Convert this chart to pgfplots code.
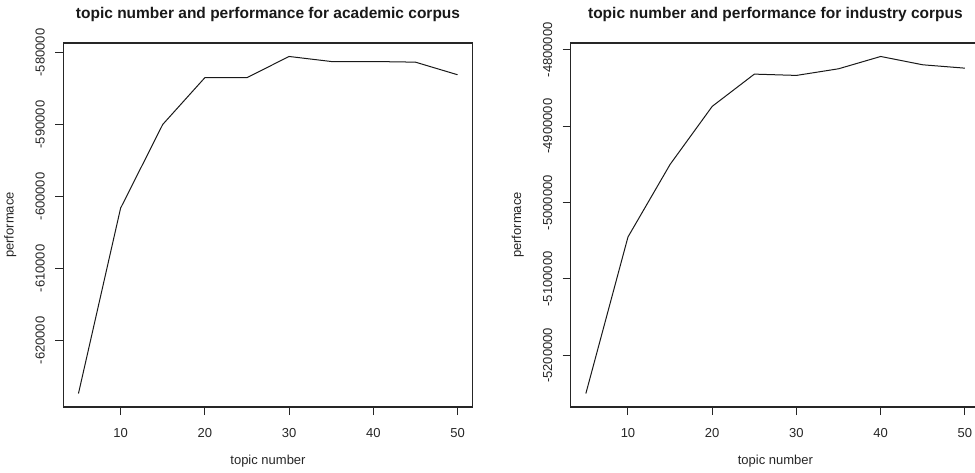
\documentclass[border=0pt]{standalone}
\usepackage{fontspec}
\setmainfont{Liberation Sans}
\usepackage{pgfplots}
\pgfplotsset{compat=1.18}
\begin{document}
\begin{tikzpicture}[x=1pt,y=1pt]
\pgfplotsset{
  rstyle/.style={
    scale only axis,
    width=409.4pt, height=364pt,
    anchor=south west,
    xmin=3.2, xmax=51.8,
    xtick={10,20,30,40,50},
    tick pos=left,
    tick align=outside,
    major tick length=8pt,
    axis line style={line width=1.3pt, color=black!85},
    every tick/.style={line width=1pt, color=black!85},
    /pgf/number format/assume math mode=true,
    tick label style={font=\fontsize{13}{15}\selectfont, color=black!85},
    yticklabel style={xshift=-7pt, rotate=90, anchor=south, /pgf/number format/fixed, /pgf/number format/1000 sep={}},
    scaled y ticks=false,
    xticklabel style={anchor=center, yshift=-18pt},
    xlabel style={at={([yshift=-54pt]axis description cs:0.5,0)}, anchor=center, font=\fontsize{13}{15}\selectfont, color=black!85},
    ylabel style={at={([xshift=-53pt]axis description cs:0,0.5)}, anchor=center, font=\fontsize{13}{15}\selectfont, color=black!85},
    title style={at={([yshift=23pt]axis description cs:0.5,1)}, anchor=center, font=\bfseries\fontsize{15.5}{18}\selectfont, color=black!90},
    xlabel={topic number},
    ylabel={performace},
  }
}
\begin{axis}[rstyle, at={(63.3pt,65pt)},
  ymin=-629250, ymax=-578680,
  ytick={-620000,-610000,-600000,-590000,-580000},
  title={topic number and performance for academic corpus}]
\addplot[line width=1pt, color=black!90] coordinates {
(5,-627380) (10,-601630) (15,-590000) (20,-583500) (25,-583500)
(30,-580550) (35,-581250) (40,-581250) (45,-581340) (50,-583090)
};
\end{axis}
\begin{axis}[rstyle, at={(570.7pt,65pt)},
  ymin=-5267650, ymax=-4791050,
  ytick={-5200000,-5100000,-5000000,-4900000,-4800000},
  title={topic number and performance for industry corpus}]
\addplot[line width=1pt, color=black!90] coordinates {
(5,-5250000) (10,-5045000) (15,-4950000) (20,-4874000) (25,-4831800)
(30,-4833500) (35,-4824800) (40,-4808700) (45,-4819600) (50,-4824000)
};
\end{axis}
\pgfresetboundingbox
\path[use as bounding box] (0,0) rectangle (975,472);
\end{tikzpicture}
\end{document}
